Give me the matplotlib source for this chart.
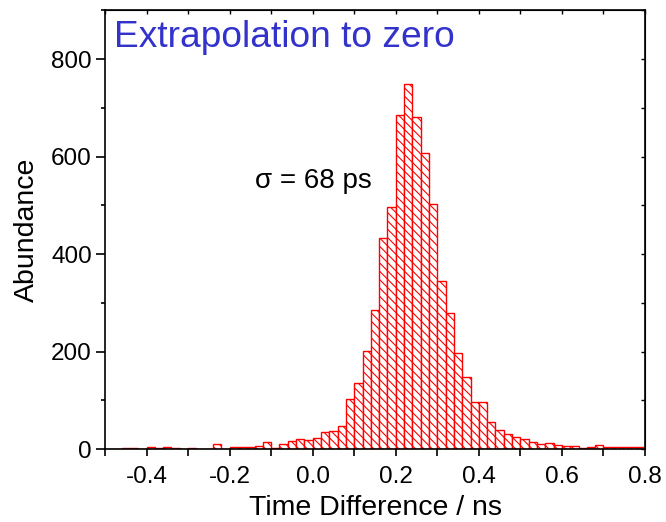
from matplotlib import pyplot as plt
import numpy as np

# histogram of time differences, bins 0.02 ns wide from -0.5 to 0.8
bin_left = np.round(np.arange(-0.50, 0.80, 0.02), 2)
counts = [1, 1, 2, 3, 1, 5, 2, 5, 3, 1,
          3, 1, 1, 11, 1, 5, 5, 5, 7, 15,
          3, 11, 16, 20, 19, 22, 35, 38, 48, 103,
          135, 202, 286, 434, 497, 686, 749, 682, 608, 502,
          345, 279, 198, 148, 96, 97, 55, 39, 30, 25,
          20, 14, 11, 13, 9, 7, 7, 3, 4, 9,
          5, 4, 4, 4, 4]
bin_width = 0.02

x_ticks = [-0.4, -0.2, 0.0, 0.2, 0.4, 0.6, 0.8]
y_ticks = [0, 200, 400, 600, 800]

title_text = 'Extrapolation to zero'
sigma_text = '\u03c3 = 68 ps'

plt.rcParams['font.family'] = ['Liberation Sans', 'DejaVu Sans']
plt.rcParams['hatch.color'] = 'red'
plt.rcParams['hatch.linewidth'] = 0.8

fig = plt.figure(figsize=(6.66, 5.22), dpi=100)
ax = fig.add_axes([0.1577, 0.1398, 0.8108, 0.8401])

ax.bar(bin_left, counts, width=bin_width, align='edge', facecolor='white',
       edgecolor='red', hatch='\\\\\\\\', linewidth=1.0)

ax.set_xlim(-0.5, 0.8)
ax.set_ylim(0, 900)
ax.set_xticks(x_ticks)
ax.set_xticklabels(['%.1f' % v for v in x_ticks])
ax.set_xticks(np.arange(-0.5, 0.81, 0.1), minor=True)
ax.set_yticks(y_ticks)
ax.set_yticks(np.arange(0, 901, 100), minor=True)

for s in ax.spines.values():
    s.set_linewidth(1.2)

ax.tick_params(axis='x', which='both', direction='out', length=5, width=1.2,
               labelsize=17.5, pad=7, top=False)
ax.tick_params(axis='y', which='major', direction='out', length=6.5, width=1.2,
               labelsize=17.5, pad=3)
ax.tick_params(axis='y', which='minor', direction='out', length=3, width=1.2)

# small inward ticks on the opposite axes
ax2 = ax.secondary_xaxis('top')
ax2.set_xticks(np.arange(-0.5, 0.81, 0.1))
ax2.tick_params(direction='in', length=3, width=1.0, labeltop=False)
ax3 = ax.secondary_yaxis('right')
ax3.set_yticks(np.arange(0, 901, 100))
ax3.tick_params(direction='in', length=3, width=1.0, labelright=False)

ax.set_xlabel('Time Difference / ns', fontsize=20.5, labelpad=5)
ax.set_ylabel('Abundance', fontsize=20.5, labelpad=8)

ax.text(-0.478, 826, title_text, color='#3333cc', fontsize=26.7, va='baseline')
ax.text(-0.138, 535, sigma_text, color='black', fontsize=20, va='baseline')

fig.savefig('out.png', dpi=100)
